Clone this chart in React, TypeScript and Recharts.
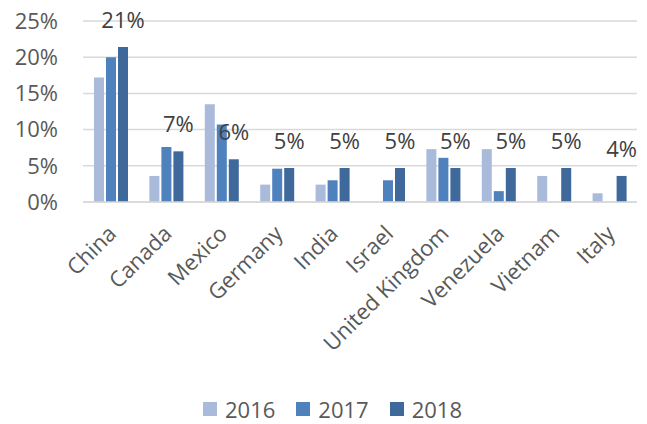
import { Bar, BarChart, CartesianGrid, LabelList, Legend, Text, XAxis, YAxis } from "recharts";

const countries = [
  "China",
  "Canada",
  "Mexico",
  "Germany",
  "India",
  "Israel",
  "United Kingdom",
  "Venezuela",
  "Vietnam",
  "Italy"
];

// shares in percent
const share2016 = [17.2, 3.6, 13.5, 2.4, 2.4, null, 7.3, 7.3, 3.6, 1.2];
const share2017 = [20.0, 7.6, 10.7, 4.6, 3.0, 3.0, 6.1, 1.5, null, null];
const share2018 = [21.4, 7.0, 5.9, 4.7, 4.7, 4.7, 4.7, 4.7, 4.7, 3.6];

const yTicks = [0, 5, 10, 15, 20, 25];

const series = [
  { key: "y2016", name: "2016", color: "#A9BADA" },
  { key: "y2017", name: "2017", color: "#4F81BD" },
  { key: "y2018", name: "2018", color: "#3F689B" }
];

const data = countries.map((country, i) => ({
  country,
  y2016: share2016[i],
  y2017: share2017[i],
  y2018: share2018[i]
}));

const FONT = "'Open Sans', 'DejaVu Sans', sans-serif";
const AXIS_TEXT = "#595959";
const GRID = "#D9D9D9";

function CountryTick({ x, y, payload }: { x?: number; y?: number; payload?: { value: string } }) {
  return (
    <Text
      x={(x ?? 0) - 4}
      y={(y ?? 0) - 2}
      angle={-45}
      textAnchor="end"
      verticalAnchor="start"
      fill={AXIS_TEXT}
      fontSize={22}
    >
      {payload?.value ?? ""}
    </Text>
  );
}

function ChartLegend() {
  return (
    <div
      style={{
        height: 44,
        boxSizing: "border-box",
        paddingTop: 14,
        paddingLeft: 28,
        display: "flex",
        justifyContent: "center",
        alignItems: "center",
        fontFamily: FONT,
        fontSize: 22,
        color: AXIS_TEXT
      }}
    >
      {series.map((s, i) => (
        <div
          key={s.key}
          style={{ display: "flex", alignItems: "center", marginLeft: i === 0 ? 0 : 21 }}
        >
          <span style={{ width: 14, height: 14, background: s.color, marginRight: 8 }} />
          <span style={{ lineHeight: "30px" }}>{s.name}</span>
        </div>
      ))}
    </div>
  );
}

export default function App() {
  return (
    <div style={{ position: "absolute", left: 0, top: 0, width: 647, height: 424, background: "#fff" }}>
      <BarChart
        width={647}
        height={424}
        data={data}
        margin={{ top: 21, right: 10, bottom: 0, left: 0 }}
        barGap={2}
        barSize={10}
        style={{ fontFamily: FONT }}
      >
        <CartesianGrid vertical={false} stroke={GRID} strokeWidth={1.5} />
        <XAxis
          dataKey="country"
          interval={0}
          tickLine={false}
          tickSize={0}
          tickMargin={24}
          height={178}
          axisLine={{ stroke: GRID, strokeWidth: 1.5 }}
          tick={<CountryTick />}
        />
        <YAxis
          domain={[0, 25]}
          ticks={yTicks}
          width={83}
          axisLine={false}
          tickLine={false}
          tickSize={0}
          tickMargin={25}
          tickFormatter={(v) => `${v}%`}
          tick={{ fill: AXIS_TEXT, fontSize: 22 }}
        />
        <Legend verticalAlign="bottom" height={44} content={() => <ChartLegend />} />
        {series.map((s) => (
          <Bar key={s.key} dataKey={s.key} name={s.name} fill={s.color} isAnimationActive={false}>
            {s.key === "y2018" ? (
              <LabelList
                dataKey={s.key}
                position="top"
                offset={19}
                fill="#404040"
                fontSize={22}
                formatter={(v) => `${Math.round(Number(v))}%`}
              />
            ) : null}
          </Bar>
        ))}
      </BarChart>
    </div>
  );
}
